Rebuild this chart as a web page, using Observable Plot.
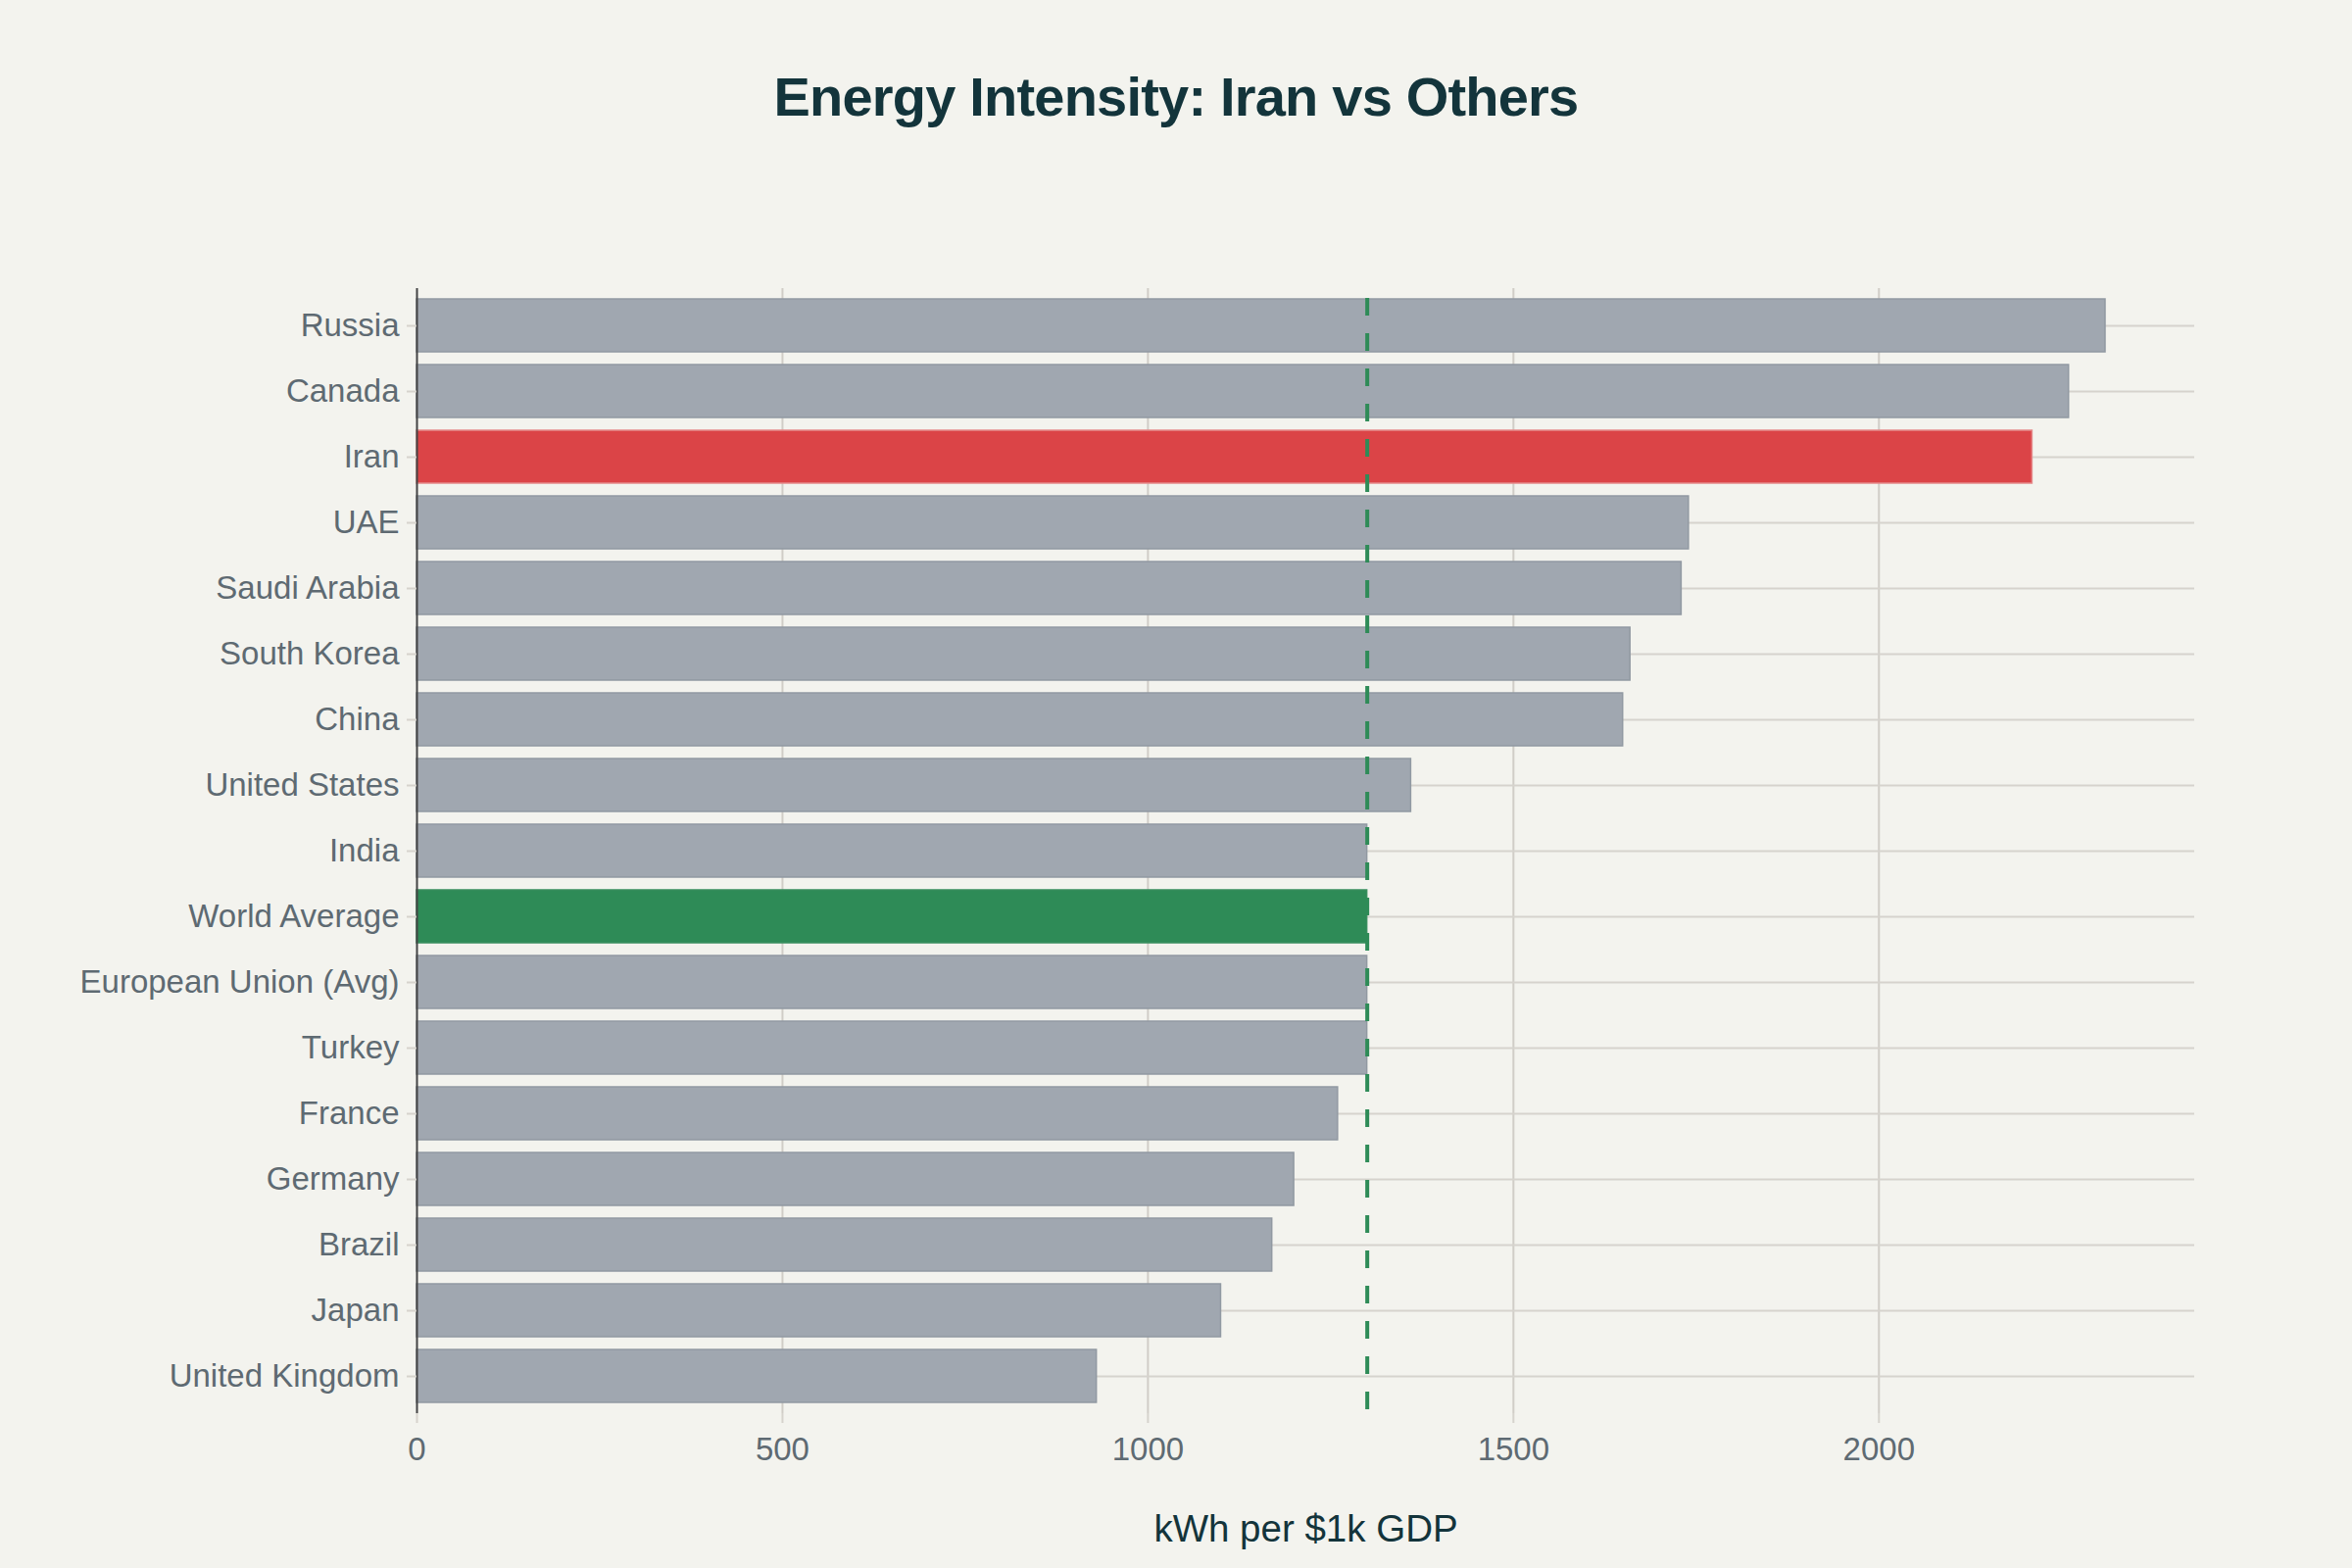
<!DOCTYPE html>
<html>
<head>
<meta charset="utf-8">
<script src="https://cdn.jsdelivr.net/npm/d3@7"></script>
<script src="https://cdn.jsdelivr.net/npm/@observablehq/plot@0.6"></script>
<style>
  html, body { margin: 0; padding: 0; background: #f3f3ee; }
  #wrap { position: relative; width: 2400px; height: 1600px; background: #f3f3ee; font-family: "Liberation Sans", Arial, sans-serif; }
  #title { position: absolute; top: 66px; left: 0; width: 2400px; text-align: center; font-size: 56px; font-weight: bold; color: #13343b; letter-spacing: -0.8px; }
  #chart { position: absolute; top: 0; left: 0; }
</style>
</head>
<body>
<div id="wrap">
  <div id="chart"></div>
  <div id="title">Energy Intensity: Iran vs Others</div>
</div>
<script>
const countries = ["Russia","Canada","Iran","UAE","Saudi Arabia","South Korea","China","United States","India","World Average","European Union (Avg)","Turkey","France","Germany","Brazil","Japan","United Kingdom"];
const intensity = [2310, 2260, 2210, 1740, 1730, 1660, 1650, 1360, 1300, 1300, 1300, 1300, 1260, 1200, 1170, 1100, 930];
const xTicks = [0, 500, 1000, 1500, 2000];
const highlightIran = "Iran";
const highlightWorld = "World Average";
const xLabel = "kWh per $1k GDP";

const colGray = "#a0a7b0";
const colRed = "#db4447";
const colGreen = "#2e8b57";
const gridCol = "#d6d3cd";
const textCol = "#5e6a72";

const data = countries.map((c, i) => ({country: c, value: intensity[i]}));
const worldAvg = data.find(d => d.country === highlightWorld).value;
const fillOf = d => d.country === highlightIran ? colRed : d.country === highlightWorld ? colGreen : colGray;
const strokeOf = d => d.country === highlightIran ? "#e58a8b" : d.country === highlightWorld ? "#3a8f5f" : "#9199a2";

const chart = Plot.plot({
  width: 2400,
  height: 1600,
  marginLeft: 425,
  marginRight: 161,
  marginTop: 294,
  marginBottom: 158,
  style: {background: "transparent", fontFamily: "'Liberation Sans', Arial, sans-serif"},
  x: {domain: [0, 2432]},
  y: {domain: countries, paddingInner: 0.2, paddingOuter: 0.1},
  marks: [
    Plot.ruleX(xTicks.filter(t => t > 0), {stroke: "#d0cdc7", strokeWidth: 2}),
    Plot.gridY({stroke: gridCol, strokeOpacity: 1, strokeWidth: 2}),
    Plot.barX(data, {x: "value", y: "country", fill: fillOf, stroke: strokeOf, strokeWidth: 1.5}),
    Plot.ruleX([0], {stroke: "#444444", strokeWidth: 2}),
    Plot.ruleX([worldAvg], {stroke: colGreen, strokeWidth: 4, strokeDasharray: "18,18", strokeDashoffset: -10}),
    Plot.axisY({tickSize: 10, tickPadding: 8, fontSize: 33, fill: textCol, stroke: gridCol, strokeWidth: 2, label: null}),
    Plot.axisX({ticks: xTicks, tickSize: 10, tickPadding: 14, fontSize: 33, fill: textCol, stroke: gridCol, strokeWidth: 2, label: null, tickFormat: d => String(d)}),
    Plot.text([xLabel], {frameAnchor: "bottom", dy: 130, fontSize: 38.5, fill: "#13343b", text: d => d})
  ]
});
document.getElementById("chart").appendChild(chart);
</script>
</body>
</html>
